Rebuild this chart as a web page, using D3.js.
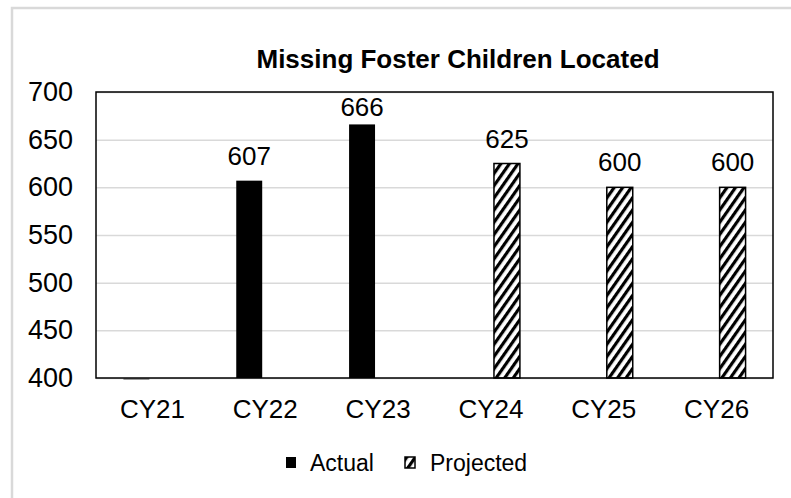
<!DOCTYPE html>
<html>
<head>
<meta charset="utf-8">
<script src="https://cdn.jsdelivr.net/npm/d3@7"></script>
<style>
  body { margin: 0; background: #fff; }
  svg text { font-family: "Liberation Sans", Arial, sans-serif; fill: #000; }
</style>
</head>
<body>
<div id="chart"></div>
<script>
// data
const categories = ["CY21", "CY22", "CY23", "CY24", "CY25", "CY26"];
const series = ["Actual", "Projected"];
const actual = [0, 607, 666, null, null, null];
const projected = [null, null, null, 625, 600, 600];
const yTicks = [400, 450, 500, 550, 600, 650, 700];
const title = "Missing Foster Children Located";

const width = 791;
const height = 498;
const marginTop = 92;
const marginRight = 18;
const marginBottom = 120;
const marginLeft = 96;

const svg = d3.select("#chart").append("svg")
    .attr("width", width)
    .attr("height", height);

// hatch pattern for projected bars
svg.append("defs").append("pattern")
    .attr("id", "hatch")
    .attr("patternUnits", "userSpaceOnUse")
    .attr("width", 7)
    .attr("height", 7)
    .attr("patternTransform", "rotate(35)")
  .call(p => p.append("rect").attr("width", 7).attr("height", 7).attr("fill", "#fff"))
  .call(p => p.append("rect").attr("width", 3.2).attr("height", 7).attr("fill", "#000"));

// outer chart frame (cropped on right/bottom)
svg.append("rect")
    .attr("x", 12).attr("y", 8)
    .attr("width", 900).attr("height", 600)
    .attr("fill", "none")
    .attr("stroke", "#d9d9d9")
    .attr("stroke-width", 2.5);

const x = d3.scaleBand()
    .domain(categories)
    .range([marginLeft, width - marginRight]);

const x1 = d3.scaleBand()
    .domain(series)
    .range([-29, 29])
    .paddingInner(0.19);

const y = d3.scaleLinear()
    .domain([400, 700])
    .range([height - marginBottom, marginTop]);

// gridlines + y labels
svg.append("g")
    .attr("transform", `translate(${marginLeft},0)`)
    .call(d3.axisLeft(y).tickValues(yTicks).tickSize(0).tickPadding(23))
    .call(g => g.select(".domain").remove())
    .call(g => g.selectAll(".tick text")
        .attr("font-size", 27)
        .attr("font-family", "Liberation Sans, Arial, sans-serif"))
    .call(g => g.selectAll(".tick line").clone()
        .attr("stroke", "#d9d9d9")
        .attr("stroke-width", 1.5)
        .attr("x2", width - marginLeft - marginRight));

// x labels
svg.append("g")
    .attr("transform", `translate(0,${height - marginBottom})`)
    .call(d3.axisBottom(x).tickSize(0).tickPadding(22))
    .call(g => g.select(".domain").remove())
    .call(g => g.selectAll(".tick text")
        .attr("font-size", 26)
        .attr("font-family", "Liberation Sans, Arial, sans-serif"));

// bars
const rows = categories.map((c, i) => [
    {cat: c, key: "Actual", value: actual[i]},
    {cat: c, key: "Projected", value: projected[i]}
]).flat().filter(d => d.value != null);

const base = y(400);
const bars = svg.append("g").selectAll("g")
    .data(rows)
    .join("g")
    .attr("transform", d => `translate(${x(d.cat) + x.bandwidth() / 2 + x1(d.key)},0)`);

bars.append("rect")
    .attr("y", d => d.value < 400 ? base : y(d.value))
    .attr("width", x1.bandwidth())
    .attr("height", d => d.value < 400 ? 2 : base - y(d.value))
    .attr("fill", d => d.value < 400 ? "#9a9a9a" : d.key === "Actual" ? "#000" : "url(#hatch)")
    .attr("stroke", d => d.key === "Projected" ? "#000" : "none")
    .attr("stroke-width", 1.5);

// labels kept inside the plot box, like Excel does
bars.filter(d => d.value >= 400).append("text")
    .attr("x", x1.bandwidth() / 2)
    .attr("y", d => Math.max(y(d.value) - 16, marginTop + 24))
    .attr("text-anchor", "middle")
    .attr("font-size", 26)
    .text(d => d.value);

// plot box
svg.append("rect")
    .attr("x", marginLeft).attr("y", marginTop)
    .attr("width", width - marginLeft - marginRight)
    .attr("height", height - marginTop - marginBottom)
    .attr("fill", "none")
    .attr("stroke", "#000")
    .attr("stroke-width", 1.5);

// title
svg.append("text")
    .attr("x", 458).attr("y", 68)
    .attr("text-anchor", "middle")
    .attr("font-size", 26)
    .attr("font-weight", "bold")
    .text(title);

// legend
const legend = svg.append("g").attr("transform", "translate(286,457)");
const items = legend.selectAll("g")
    .data(series)
    .join("g")
    .attr("transform", (d, i) => `translate(${i * 119},0)`);
items.append("rect")
    .attr("width", 10).attr("height", 11)
    .attr("fill", d => d === "Actual" ? "#000" : "url(#hatch)")
    .attr("stroke", "#000")
    .attr("stroke-width", d => d === "Actual" ? 0 : 1.5);
items.append("text")
    .attr("x", d => d === "Actual" ? 24 : 25).attr("y", 14)
    .attr("font-size", 23)
    .text(d => d);
</script>
</body>
</html>
